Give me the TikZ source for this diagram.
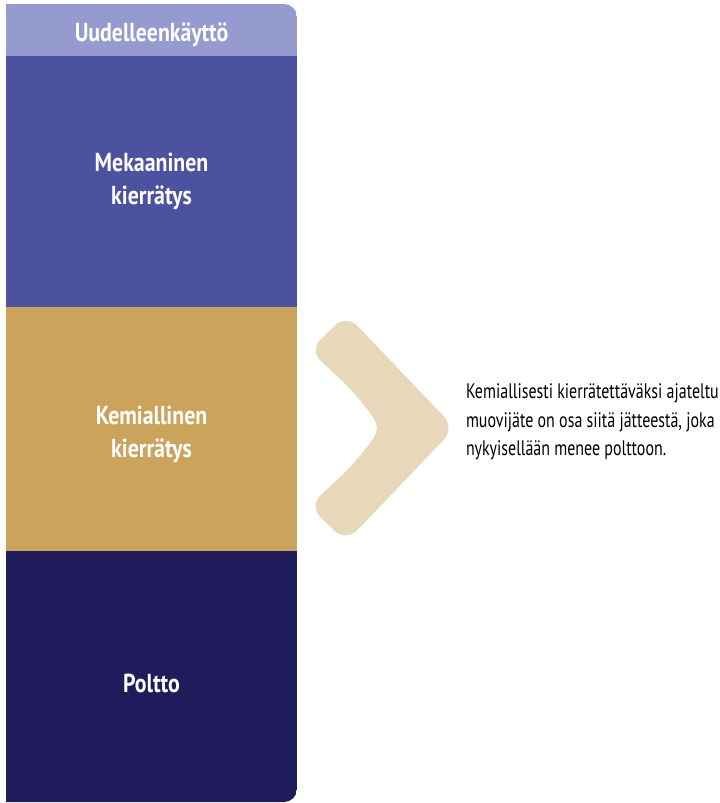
\documentclass[tikz,border=0pt]{standalone}
\usepackage{fontspec}
\setmainfont{PT Sans}[FakeStretch=0.84]
\newfontfamily\notefont{PT Sans}[FakeStretch=0.76]
\definecolor{reuse}{HTML}{959BCF}
\definecolor{mech}{HTML}{4B53A1}
\definecolor{chem}{HTML}{CBA35B}
\definecolor{burn}{HTML}{201C5B}
\definecolor{chev}{HTML}{E8D8BA}

\begin{document}
\begin{tikzpicture}[x=1pt,y=-1pt,every node/.style={inner sep=0pt, outer sep=0pt},
band/.style={anchor=north west, minimum width=291pt, fill=#1},
title/.style={text=white, align=center, font=\fontsize{26}{33}\selectfont\bfseries}]
\useasboundingbox (0,0) rectangle (720,803);
\begin{scope}
\clip[rounded corners=13pt] (-20,4) rectangle (297,802);
\node[band=reuse, minimum height=52pt](reuse) at (6,4) {};
\node[band=mech, minimum height=251pt](mech) at (6,56) {};
\node[band=chem, minimum height=244pt](chem) at (6,307) {};
\node[band=burn, minimum height=252pt](burn) at (6,551) {};
\end{scope}
\node[title] at ([yshift=-5pt]reuse.center) {Uudelleenkäyttö};
\node[title] at (mech.center) {Mekaaninen\\kierrätys};
\node[title] at ([yshift=-5pt]chem.center) {Kemiallinen\\kierrätys};
\node[title] at ([yshift=-6pt]burn.center) {Poltto};
\fill[chev, rounded corners=16pt] (328,333) -- (346,314) -- (455,428) -- (346,542) -- (309,506) -- (352,466) .. controls (382,428) .. (352,390) -- (309,350) -- cycle;
\node[anchor=west, align=left, font=\notefont\fontsize{21}{28.5}\selectfont](note) at (466,422) {Kemiallisesti kierrätettäväksi ajateltu\\muovijäte on osa siitä jätteestä, joka\\nykyisellään menee polttoon.};
\end{tikzpicture}
\end{document}
